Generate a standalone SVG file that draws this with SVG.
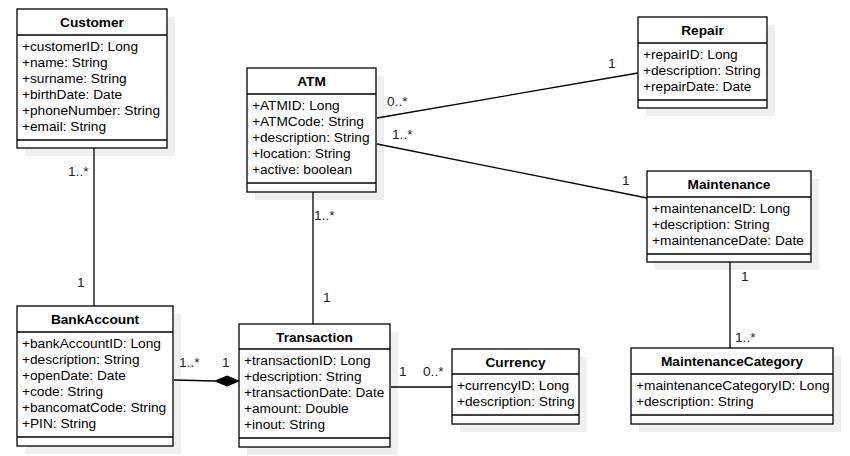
<svg xmlns="http://www.w3.org/2000/svg" width="850" height="456" viewBox="0 0 850 456">
<style>
.sh{fill:#efefef;stroke:none}
.bx{fill:#fff;stroke:#000;stroke-width:1.3}
.ln{stroke:#000;stroke-width:1.3;fill:none}
.t{font-family:"Liberation Sans",Arial,sans-serif;font-size:13.7px;font-weight:bold;text-anchor:middle;fill:#000}
.a{font-family:"Liberation Sans",Arial,sans-serif;font-size:13.7px;fill:#000}
.m{font-family:"Liberation Sans",Arial,sans-serif;font-size:13.7px;fill:#222}
</style>
<rect width="850" height="456" fill="#fff"/>
<g id="Customer">
<rect class="sh" x="25" y="17" width="150" height="139"/>
<rect class="bx" x="17" y="9" width="150" height="139"/>
<line class="ln" x1="17" y1="35" x2="167" y2="35"/>
<line class="ln" x1="17" y1="140" x2="167" y2="140"/>
<text class="t" x="92" y="27">Customer</text>
<text class="a" x="22" y="51">+customerID: Long</text>
<text class="a" x="22" y="67">+name: String</text>
<text class="a" x="22" y="83">+surname: String</text>
<text class="a" x="22" y="99">+birthDate: Date</text>
<text class="a" x="22" y="115">+phoneNumber: String</text>
<text class="a" x="22" y="131">+email: String</text>
</g>
<g id="ATM">
<rect class="sh" x="255" y="76" width="129" height="124"/>
<rect class="bx" x="247" y="68" width="129" height="124"/>
<line class="ln" x1="247" y1="94" x2="376" y2="94"/>
<line class="ln" x1="247" y1="183" x2="376" y2="183"/>
<text class="t" x="311.5" y="86">ATM</text>
<text class="a" x="252" y="110">+ATMID: Long</text>
<text class="a" x="252" y="126">+ATMCode: String</text>
<text class="a" x="252" y="142">+description: String</text>
<text class="a" x="252" y="158">+location: String</text>
<text class="a" x="252" y="174">+active: boolean</text>
</g>
<g id="Repair">
<rect class="sh" x="646" y="25" width="129" height="91"/>
<rect class="bx" x="638" y="17" width="129" height="91"/>
<line class="ln" x1="638" y1="43" x2="767" y2="43"/>
<line class="ln" x1="638" y1="100" x2="767" y2="100"/>
<text class="t" x="702.5" y="35">Repair</text>
<text class="a" x="643" y="59">+repairID: Long</text>
<text class="a" x="643" y="75">+description: String</text>
<text class="a" x="643" y="91">+repairDate: Date</text>
</g>
<g id="Maintenance">
<rect class="sh" x="655" y="179" width="164" height="91"/>
<rect class="bx" x="647" y="171" width="164" height="91"/>
<line class="ln" x1="647" y1="197" x2="811" y2="197"/>
<line class="ln" x1="647" y1="254" x2="811" y2="254"/>
<text class="t" x="729" y="189">Maintenance</text>
<text class="a" x="652" y="213">+maintenanceID: Long</text>
<text class="a" x="652" y="229">+description: String</text>
<text class="a" x="652" y="245">+maintenanceDate: Date</text>
</g>
<g id="BankAccount">
<rect class="sh" x="25" y="314" width="156" height="140"/>
<rect class="bx" x="17" y="306" width="156" height="140"/>
<line class="ln" x1="17" y1="332" x2="173" y2="332"/>
<line class="ln" x1="17" y1="437" x2="173" y2="437"/>
<text class="t" x="95" y="324">BankAccount</text>
<text class="a" x="22" y="348">+bankAccountID: Long</text>
<text class="a" x="22" y="364">+description: String</text>
<text class="a" x="22" y="380">+openDate: Date</text>
<text class="a" x="22" y="396">+code: String</text>
<text class="a" x="22" y="412">+bancomatCode: String</text>
<text class="a" x="22" y="428">+PIN: String</text>
</g>
<g id="Transaction">
<rect class="sh" x="247" y="332" width="151" height="123"/>
<rect class="bx" x="239" y="324" width="151" height="123"/>
<line class="ln" x1="239" y1="349" x2="390" y2="349"/>
<line class="ln" x1="239" y1="438" x2="390" y2="438"/>
<text class="t" x="314.5" y="342">Transaction</text>
<text class="a" x="244" y="365">+transactionID: Long</text>
<text class="a" x="244" y="381">+description: String</text>
<text class="a" x="244" y="397">+transactionDate: Date</text>
<text class="a" x="244" y="413">+amount: Double</text>
<text class="a" x="244" y="429">+inout: String</text>
</g>
<g id="Currency">
<rect class="sh" x="460" y="357" width="127" height="75"/>
<rect class="bx" x="452" y="349" width="127" height="75"/>
<line class="ln" x1="452" y1="374" x2="579" y2="374"/>
<line class="ln" x1="452" y1="415" x2="579" y2="415"/>
<text class="t" x="515.5" y="367">Currency</text>
<text class="a" x="457" y="390">+currencyID: Long</text>
<text class="a" x="457" y="406">+description: String</text>
</g>
<g id="MaintenanceCategory">
<rect class="sh" x="639" y="356" width="202" height="76"/>
<rect class="bx" x="631" y="348" width="202" height="76"/>
<line class="ln" x1="631" y1="374" x2="833" y2="374"/>
<line class="ln" x1="631" y1="415" x2="833" y2="415"/>
<text class="t" x="732" y="366">MaintenanceCategory</text>
<text class="a" x="636" y="390">+maintenanceCategoryID: Long</text>
<text class="a" x="636" y="406">+description: String</text>
</g>
<g id="connectors">
<line class="ln" x1="94" y1="148" x2="94" y2="306"/>
<line class="ln" x1="313" y1="192" x2="313" y2="324"/>
<line class="ln" x1="377" y1="118" x2="638" y2="73"/>
<line class="ln" x1="377" y1="144" x2="647" y2="198"/>
<line class="ln" x1="730" y1="262" x2="730" y2="348"/>
<line class="ln" x1="174" y1="380" x2="215" y2="381"/>
<polygon points="215,381 227,376 239,381 227,386" fill="#000" stroke="#000"/>
<line class="ln" x1="391" y1="387" x2="452" y2="387"/>
<text class="m" x="68" y="176">1..*</text>
<text class="m" x="77" y="287">1</text>
<text class="m" x="314" y="220">1..*</text>
<text class="m" x="323" y="302">1</text>
<text class="m" x="387" y="106">0..*</text>
<text class="m" x="608" y="68">1</text>
<text class="m" x="392" y="139">1..*</text>
<text class="m" x="622" y="185">1</text>
<text class="m" x="741" y="281">1</text>
<text class="m" x="735" y="342">1..*</text>
<text class="m" x="179" y="367">1..*</text>
<text class="m" x="222" y="367">1</text>
<text class="m" x="399" y="376">1</text>
<text class="m" x="423" y="376">0..*</text>
</g>
</svg>
